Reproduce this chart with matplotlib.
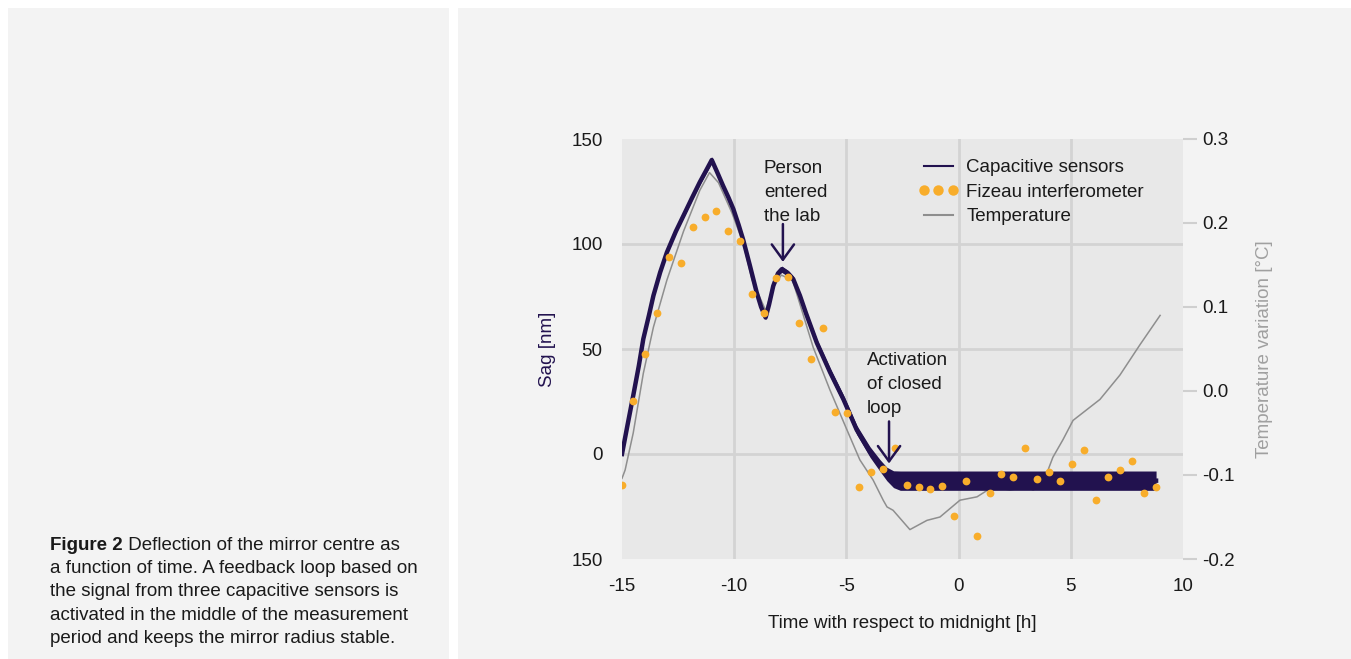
import matplotlib
matplotlib.use("Agg")
import matplotlib.pyplot as plt
import matplotlib.text as mtext
import numpy as np
from matplotlib.patches import Rectangle
from matplotlib.lines import Line2D

plt.rcParams["font.family"] = ["Liberation Sans", "DejaVu Sans"]

# Capacitive sensors: centre of the trace [nm] and half-width of its noise band
cap_t = [-15.0, -14.75, -14.5, -14.25, -14.05, -13.8, -13.6, -13.3, -13.0, -12.6,
         -12.26, -11.9, -11.53, -11.25, -11.0, -10.75, -10.5, -10.25, -10.04, -9.8,
         -9.6, -9.3, -9.0, -8.8, -8.6, -8.45, -8.26, -8.05, -7.88, -7.6,
         -7.37, -7.07, -6.8, -6.32, -5.73, -5.13, -4.54, -3.95, -3.5, -3.2,
         -2.9, -2.6, 8.8]
cap_sag = [0, 14, 27.8, 42, 54.8, 66, 75.4, 86.5, 96, 106,
           113.5, 121.5, 129.5, 135, 140, 134, 127.8, 122, 116.7, 109,
           102, 89.7, 77, 70, 65, 71, 80, 86, 88, 86,
           83.3, 75.4, 67, 53, 39, 26, 11.5, 1.0, -5.5, -9.5,
           -12, -12.7, -12.7]
cap_hw = [0.4, 0.4, 0.4, 0.4, 0.4, 0.5, 0.5, 0.6, 0.7, 0.8,
          1.0, 1.0, 1.2, 1.3, 1.5, 1.4, 1.2, 1.1, 1.0, 1.0,
          1.0, 1.0, 1.0, 1.0, 1.0, 1.0, 1.0, 1.2, 1.5, 1.5,
          1.5, 1.5, 1.6, 1.8, 2.0, 2.0, 2.2, 2.5, 2.8, 3.2,
          4.0, 4.6, 4.6]

# Fizeau interferometer samples [nm]
fiz_t = [-15.0, -14.5, -13.97, -13.42, -12.9, -12.38, -11.83, -11.31, -10.8, -10.26,
         -9.73, -9.2, -8.67, -8.15, -7.62, -7.1, -6.57, -6.05, -5.5, -4.98,
         -4.45, -3.92, -3.39, -2.83, -2.31, -1.78, -1.26, -0.72, -0.19, 0.32,
         0.84, 1.39, 1.9, 2.43, 2.96, 3.5, 4.02, 4.53, 5.07, 5.6,
         6.14, 6.64, 7.19, 7.71, 8.25, 8.78]
fiz_sag = [-14.8, 25.1, 47.6, 67.3, 93.7, 90.8, 108.3, 112.9, 115.7, 106,
           101.6, 76, 67.3, 83.8, 84.1, 62.5, 45.4, 60.1, 19.8, 19.7,
           -15.6, -8.7, -7.1, 3.0, -14.6, -15.6, -16.8, -15.2, -29.5, -12.9,
           -39.2, -18.4, -9.5, -10.8, 2.9, -12.1, -8.4, -13.0, -4.8, 1.9,
           -22.0, -11.1, -7.6, -3.2, -18.6, -15.9]

# Temperature variation [°C]
temp_t = [-15.0, -14.86, -14.5, -14.05, -13.6, -13.0, -12.26, -11.53, -11.1, -10.7,
          -10.1, -9.6, -9.2, -8.6, -8.26, -7.9, -7.4, -6.48, -5.73, -4.98,
          -4.4, -3.81, -3.36, -3.19, -2.92, -2.17, -1.41, -0.83, 0.06, 0.82,
          1.53, 2.29, 3.05, 3.32, 3.76, 4.2, 4.65, 5.1, 6.3, 7.19, 8.08, 8.98]
temp_val = [-0.104, -0.094, -0.05, 0.021, 0.076, 0.132, 0.19, 0.239, 0.26, 0.248,
            0.212, 0.176, 0.132, 0.096, 0.124, 0.138, 0.132, 0.052, 0.001, -0.046,
            -0.082, -0.106, -0.13, -0.138, -0.142, -0.165, -0.154, -0.15, -0.13, -0.126,
            -0.114, -0.118, -0.114, -0.118, -0.11, -0.079, -0.058, -0.035, -0.01, 0.019, 0.055, 0.09]

x_ticks = [-15, -10, -5, 0, 5, 10]
sag_ticks = [-50, 0, 50, 100, 150]
sag_tick_labels = ["150", "0", "50", "100", "150"]
temp_ticks = [-0.2, -0.1, 0.0, 0.1, 0.2, 0.3]
temp_tick_labels = ["-0.2", "-0.1", "0.0", "0.1", "0.2", "0.3"]

caption_lines = [
    "a function of time. A feedback loop based on",
    "the signal from three capacitive sensors is",
    "activated in the middle of the measurement",
    "period and keeps the mirror radius stable.",
]

C_CAP = "#22124f"
C_FIZ = "#f8ad2b"
C_TEMP = "#8e8e8e"
C_GRID = "#d3d3d3"
C_TXT = "#1a1a1a"
FS = 13.5

W, H = 1351, 659
fig = plt.figure(figsize=(W / 100, H / 100), dpi=100, facecolor="white")

def fx(px):
    return px / W

def fy(py):
    return 1 - py / H

# background panels
for x0, x1 in [(8, 449), (458, 1351)]:
    fig.patches.append(Rectangle((fx(x0), 0), fx(x1 - x0), fy(8), transform=fig.transFigure,
                                 facecolor="#f3f3f3", edgecolor="none", zorder=-5))

ax = fig.add_axes([fx(622), fy(559), fx(1183 - 622), (559 - 139) / H])
ax2 = ax.twinx()

# temperature axis sits underneath and carries the background and grid
ax2.set_zorder(1)
ax.set_zorder(2)
ax.patch.set_visible(False)
ax2.patch.set_visible(True)
ax2.patch.set_facecolor("#e8e8e8")
for a in (ax, ax2):
    for s in a.spines.values():
        s.set_visible(False)

ax.set_xlim(-15, 10)
ax.set_ylim(-50, 150)
ax.set_xticks(x_ticks)
ax.set_xticklabels([str(v) for v in x_ticks])
ax.set_yticks(sag_ticks)
ax.set_yticklabels(sag_tick_labels)
ax.tick_params(axis="both", length=0, labelsize=FS, colors=C_TXT)
ax.tick_params(axis="y", pad=14)
ax.tick_params(axis="x", pad=14)
ax.set_xlabel("Time with respect to midnight [h]", fontsize=FS, color=C_TXT, labelpad=14)
ax.set_ylabel("Sag [nm]", fontsize=FS, color=C_CAP, labelpad=11)

ax2.set_xlim(-15, 10)
ax2.set_ylim(-0.2, 0.3)
ax2.set_yticks(temp_ticks)
ax2.set_yticklabels(temp_tick_labels)
ax2.tick_params(axis="y", length=10, width=1.5, color="#cfcfcf", labelsize=FS,
                labelcolor=C_TXT, pad=4)
ax2.set_ylabel("Temperature variation [°C]", fontsize=FS, color="#a0a0a0", labelpad=15)

# grid drawn in sag coordinates via a blended transform on the lower axes
for xv in x_ticks[1:-1]:
    ax2.axvline(xv, color=C_GRID, linewidth=2, zorder=0)
for yv in sag_ticks[1:-1]:
    ax2.plot([0, 1], [yv, yv], transform=ax.get_yaxis_transform(),
             color=C_GRID, linewidth=2, zorder=0)

ax2.plot(temp_t, temp_val, color=C_TEMP, linewidth=1.1, zorder=2)

cap_t_a = np.array(cap_t)
cap_c = np.array(cap_sag)
cap_w = np.array(cap_hw)
ax.fill_between(cap_t_a, cap_c - cap_w, cap_c + cap_w, color=C_CAP, linewidth=0, zorder=3)
ax.plot(cap_t_a, cap_c, color=C_CAP, linewidth=3.2, solid_joinstyle="round", zorder=3)
ax.plot(fiz_t, fiz_sag, linestyle="none", marker="o", markersize=5.6,
        markerfacecolor=C_FIZ, markeredgecolor="none", zorder=4)

# annotations
arrow_kw = dict(arrowstyle="->,head_length=0.55,head_width=0.4", color=C_CAP,
                lw=1.8, mutation_scale=20, shrinkA=0, shrinkB=0)
ax.annotate("", xy=(-7.83, 91.5), xytext=(-7.83, 109.5), arrowprops=arrow_kw, zorder=5)
ax.annotate("", xy=(-3.1, -4.5), xytext=(-3.1, 15.5), arrowprops=arrow_kw, zorder=5)
ax.text(-8.68, 140, "Person\nentered\nthe lab", fontsize=FS, color=C_TXT,
        va="top", ha="left", linespacing=1.53, zorder=5)
ax.text(-4.1, 48.7, "Activation\nof closed\nloop", fontsize=FS, color=C_TXT,
        va="top", ha="left", linespacing=1.55, zorder=5)

handles = [
    Line2D([], [], color=C_CAP, linewidth=1.5),
    Line2D([], [], linestyle="none", marker="o", markersize=7.5,
           markerfacecolor=C_FIZ, markeredgecolor="none"),
    Line2D([], [], color=C_TEMP, linewidth=1.5),
]
leg = ax.legend(handles, ["Capacitive sensors", "Fizeau interferometer", "Temperature"],
                loc="upper left", bbox_to_anchor=((918 - 622) / 561, (559 - 159) / 420),
                frameon=False, fontsize=FS, numpoints=3, handlelength=2.15,
                handletextpad=0.43, labelspacing=0.4, borderpad=0, borderaxespad=0)
for t in leg.get_texts():
    t.set_color(C_TXT)

# caption
bold = fig.text(fx(50), fy(550), "Figure 2", fontsize=FS, fontweight="bold",
                color=C_TXT, va="baseline", ha="left")
rest = mtext.Annotation(" Deflection of the mirror centre as", xy=(1, 0), xycoords=bold,
                        va="bottom", ha="left", fontsize=FS, color=C_TXT)
rest.set_figure(fig)
fig.texts.append(rest)
for i, line in enumerate(caption_lines):
    fig.text(fx(50), fy(550 + 23.2 * (i + 1)), line, fontsize=FS, color=C_TXT,
             va="baseline", ha="left")

fig.savefig("out.png", dpi=100, facecolor="white")
